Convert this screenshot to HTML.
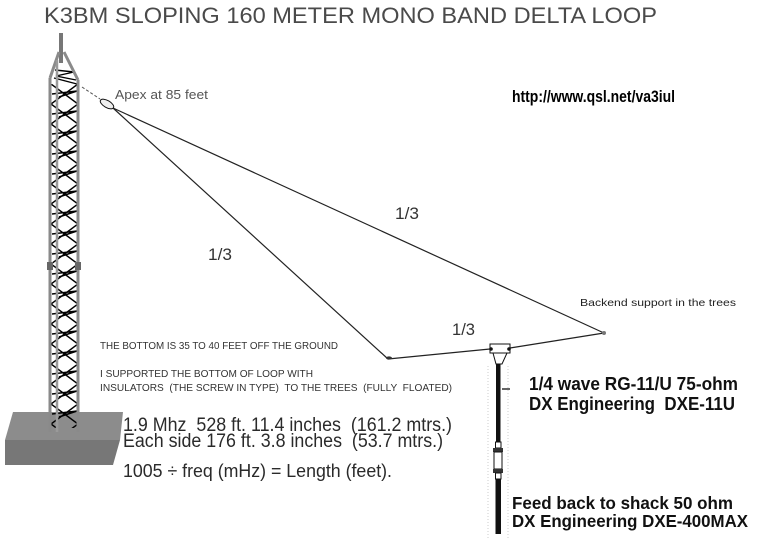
<!DOCTYPE html>
<html>
<head>
<meta charset="utf-8">
<style>
html,body{margin:0;padding:0;background:#fff;}
svg{display:block;}
text{font-family:"Liberation Sans",Arial,sans-serif;white-space:pre;}
</style>
</head>
<body>
<svg width="758" height="546" viewBox="0 0 758 546" xmlns="http://www.w3.org/2000/svg" xml:space="preserve">
<defs>
<pattern id="lat" patternUnits="userSpaceOnUse" x="51" y="84" width="27" height="20">
<path d="M0,0 L27,20 M27,0 L0,20 M1,10 L26,7 L8,13" stroke="#000" stroke-width="1.5" fill="none"/>
</pattern>
</defs>
<rect width="758" height="546" fill="#fff"/>

<!-- Title -->
<text x="44" y="23" font-size="22" fill="#4a4a4a" textLength="613" lengthAdjust="spacingAndGlyphs">K3BM SLOPING 160 METER MONO BAND DELTA LOOP</text>

<!-- Tower base -->
<polygon points="13,412 123,412 120,440 5,440" fill="#8c8c8c"/>
<polygon points="5,440 120,440 113,465 5,465" fill="#777"/>

<!-- Tower lattice -->
<rect x="51" y="84" width="27" height="344" fill="url(#lat)"/>
<path d="M55,70 L74,72 L56,76 L76,80 M54,78 L77,84" stroke="#000" stroke-width="1.4" fill="none"/>
<!-- mast -->
<rect x="59" y="33" width="4" height="30" fill="#777"/>
<!-- legs -->
<path d="M50,78 L59,52 M78,80 L64,52" stroke="#8a8a8a" stroke-width="3" fill="none"/>
<line x1="50" y1="78" x2="50" y2="432" stroke="#8a8a8a" stroke-width="3"/>
<line x1="57" y1="60" x2="57" y2="432" stroke="#9a9a9a" stroke-width="2.5"/>
<line x1="78" y1="80" x2="78" y2="432" stroke="#8a8a8a" stroke-width="3"/>
<rect x="47" y="262" width="6" height="8" fill="#666"/>
<rect x="75" y="262" width="6" height="8" fill="#666"/>

<!-- dashed guy to apex -->
<line x1="82" y1="87" x2="100" y2="99" stroke="#555" stroke-width="1" stroke-dasharray="3,2"/>
<!-- insulator -->
<ellipse cx="107" cy="104" rx="7.5" ry="3.5" transform="rotate(30 107 104)" fill="#eee" stroke="#111" stroke-width="1"/>

<!-- loop wires -->
<line x1="113" y1="108" x2="388" y2="359" stroke="#222" stroke-width="1.2"/>
<line x1="113" y1="108" x2="604" y2="333" stroke="#222" stroke-width="1.2"/>
<line x1="388" y1="359" x2="490" y2="349" stroke="#222" stroke-width="1.3"/>
<line x1="510" y1="348" x2="604" y2="333" stroke="#222" stroke-width="1.3"/>
<ellipse cx="389" cy="358" rx="3" ry="1.6" fill="#333"/>
<circle cx="604" cy="333" r="2" fill="#777"/>

<!-- feed box -->
<rect x="490" y="344" width="20" height="9" fill="#fff" stroke="#111" stroke-width="1"/>
<path d="M493,353 L496,364 L502,364 L507,353" fill="none" stroke="#111" stroke-width="1"/>
<circle cx="491" cy="349" r="1.8" fill="#111"/>
<circle cx="509" cy="349" r="1.8" fill="#111"/>

<!-- faint dotted guides -->
<line x1="488" y1="366" x2="488" y2="540" stroke="#ccc" stroke-width="1" stroke-dasharray="1,2"/>
<line x1="508" y1="366" x2="508" y2="540" stroke="#ccc" stroke-width="1" stroke-dasharray="1,2"/>

<!-- coax -->
<rect x="496" y="364" width="4.5" height="78" fill="#111"/>
<line x1="502" y1="389" x2="510" y2="389" stroke="#111" stroke-width="1.3"/>
<rect x="495.5" y="442" width="5.5" height="6" fill="#fff" stroke="#111" stroke-width="1"/>
<rect x="493" y="448" width="10" height="4" fill="#333"/>
<rect x="494" y="452" width="8" height="17" fill="#fff" stroke="#111" stroke-width="1"/>
<rect x="493" y="469" width="10" height="4" fill="#333"/>
<rect x="495.5" y="473" width="5.5" height="6" fill="#fff" stroke="#111" stroke-width="1"/>
<rect x="495.5" y="479" width="5.5" height="55" fill="#111"/>

<!-- labels -->
<text x="115" y="99" font-size="13" fill="#555" textLength="93" lengthAdjust="spacingAndGlyphs">Apex at 85 feet</text>
<text x="512" y="102" font-size="17" font-weight="bold" fill="#000" textLength="163" lengthAdjust="spacingAndGlyphs">http://www.qsl.net/va3iul</text>
<text x="395" y="219" font-size="17" fill="#333" textLength="24" lengthAdjust="spacingAndGlyphs">1/3</text>
<text x="208" y="260" font-size="17" fill="#333" textLength="24" lengthAdjust="spacingAndGlyphs">1/3</text>
<text x="452" y="335" font-size="17" fill="#333" textLength="23" lengthAdjust="spacingAndGlyphs">1/3</text>
<text x="580" y="306" font-size="10.5" fill="#222" textLength="156" lengthAdjust="spacingAndGlyphs">Backend support in the trees</text>
<text x="100" y="349" font-size="10" fill="#333" textLength="238" lengthAdjust="spacingAndGlyphs">THE BOTTOM IS 35 TO 40 FEET OFF THE GROUND</text>
<text x="100" y="377" font-size="10" fill="#333" textLength="213" lengthAdjust="spacingAndGlyphs">I SUPPORTED THE BOTTOM OF LOOP WITH</text>
<text x="100" y="391" font-size="10" fill="#333" textLength="352" lengthAdjust="spacingAndGlyphs">INSULATORS  (THE SCREW IN TYPE)  TO THE TREES  (FULLY  FLOATED)</text>
<text x="123" y="431" font-size="19" fill="#2a2a2a" textLength="329" lengthAdjust="spacingAndGlyphs">1.9 Mhz  528 ft. 11.4 inches  (161.2 mtrs.)</text>
<text x="123" y="447" font-size="19" fill="#2a2a2a" textLength="320" lengthAdjust="spacingAndGlyphs">Each side 176 ft. 3.8 inches  (53.7 mtrs.)</text>
<text x="123" y="477" font-size="18" fill="#2a2a2a" textLength="269" lengthAdjust="spacingAndGlyphs">1005 ÷ freq (mHz) = Length (feet).</text>
<text x="529" y="390" font-size="18" font-weight="bold" fill="#111" textLength="209" lengthAdjust="spacingAndGlyphs">1/4 wave RG-11/U 75-ohm</text>
<text x="529" y="410" font-size="18" font-weight="bold" fill="#111" textLength="206" lengthAdjust="spacingAndGlyphs">DX Engineering  DXE-11U</text>
<text x="512" y="509" font-size="17.5" font-weight="bold" fill="#111" textLength="221" lengthAdjust="spacingAndGlyphs">Feed back to shack 50 ohm</text>
<text x="512" y="527" font-size="17.5" font-weight="bold" fill="#111" textLength="236" lengthAdjust="spacingAndGlyphs">DX Engineering DXE-400MAX</text>
</svg>
</body>
</html>
